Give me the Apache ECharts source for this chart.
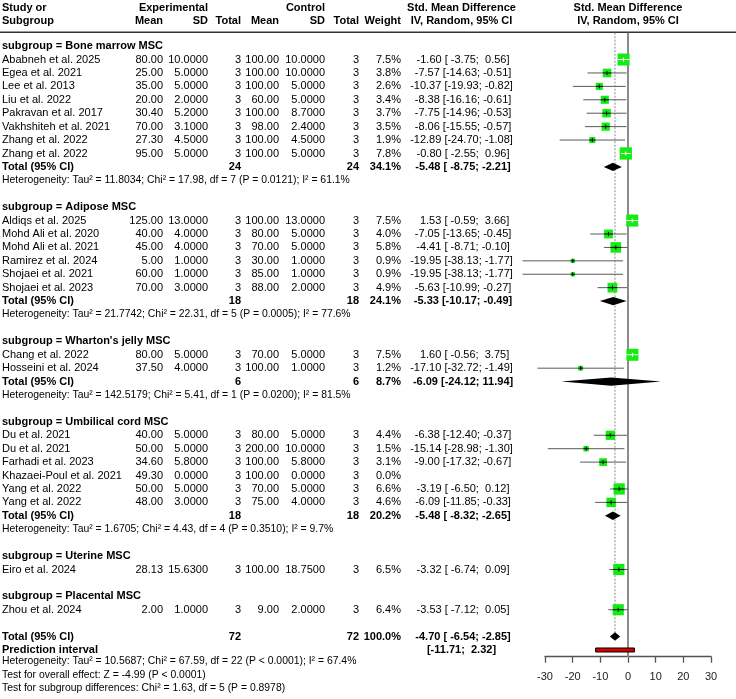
<!DOCTYPE html>
<html><head><meta charset="utf-8">
<script src="https://cdn.jsdelivr.net/npm/echarts@6.0.0/dist/echarts.min.js"></script>
<style>html,body{margin:0;padding:0;background:#fff}#c{width:736px;height:699px}</style>
</head><body><div id="c"></div>
<script>
// ---------------- DATA ----------------
const subgroupNames = ["Bone marrow MSC","Adipose MSC","Wharton's jelly MSC","Umbilical cord MSC","Uterine MSC","Placental MSC"];
const studyLabels = ["Ababneh et al. 2025","Egea et al. 2021","Lee et al. 2013","Liu et al. 2022","Pakravan et al. 2017","Vakhshiteh et al. 2021","Zhang et al. 2022","Zhang et al. 2022",
  "Aldiqs et al. 2025","Mohd Ali et al. 2020","Mohd Ali et al. 2021","Ramirez et al. 2024","Shojaei et al. 2021","Shojaei et al. 2023",
  "Chang et al. 2022","Hosseini et al. 2024",
  "Du et al. 2021","Du et al. 2021","Farhadi et al. 2023","Khazaei-Poul et al. 2021","Yang et al. 2022","Yang et al. 2022",
  "Eiro et al. 2024","Zhou et al. 2024"];
const studyGroup = [0,0,0,0,0,0,0,0, 1,1,1,1,1,1, 2,2, 3,3,3,3,3,3, 4, 5];
const expMean = [80,25,35,20,30.4,70,27.3,95, 125,40,45,5,60,70, 80,37.5, 40,50,34.6,49.3,50,48, 28.13, 2];
const expSD   = [10,5,5,2,5.2,3.1,4.5,5, 13,4,4,1,1,3, 5,4, 5,5,5.8,0,5,3, 15.63, 1];
const expN    = [3,3,3,3,3,3,3,3, 3,3,3,3,3,3, 3,3, 3,3,3,3,3,3, 3, 3];
const ctrlMean = [100,100,100,60,100,98,100,100, 100,80,70,30,85,88, 70,100, 80,200,100,100,70,75, 100, 9];
const ctrlSD   = [10,10,5,5,8.7,2.4,4.5,5, 13,5,5,1,1,2, 5,1, 5,10,5.8,0,5,4, 18.75, 2];
const ctrlN    = [3,3,3,3,3,3,3,3, 3,3,3,3,3,3, 3,3, 3,3,3,3,3,3, 3, 3];
const weights  = [7.5,3.8,2.6,3.4,3.7,3.5,1.9,7.8, 7.5,4.0,5.8,0.9,0.9,4.9, 7.5,1.2, 4.4,1.5,3.1,0.0,6.6,4.6, 6.5, 6.4];
const smd   = [-1.60,-7.57,-10.37,-8.38,-7.75,-8.06,-12.89,-0.80, 1.53,-7.05,-4.41,-19.95,-19.95,-5.63, 1.60,-17.10, -6.38,-15.14,-9.00,null,-3.19,-6.09, -3.32, -3.53];
const ciLow = [-3.75,-14.63,-19.93,-16.16,-14.96,-15.55,-24.70,-2.55, -0.59,-13.65,-8.71,-38.13,-38.13,-10.99, -0.56,-32.72, -12.40,-28.98,-17.32,null,-6.50,-11.85, -6.74, -7.12];
const ciHigh = [0.56,-0.51,-0.82,-0.61,-0.53,-0.57,-1.08,0.96, 3.66,-0.45,-0.10,-1.77,-1.77,-0.27, 3.75,-1.49, -0.37,-1.30,-0.67,null,0.12,-0.33, 0.09, 0.05];

// subgroup totals (null = single-study subgroup, no total row)
const subN      = [24,18,6,18,null,null];
const subWeight = [34.1,24.1,8.7,20.2,null,null];
const subSmd    = [-5.48,-5.33,-6.09,-5.48,null,null];
const subLow    = [-8.75,-10.17,-24.12,-8.32,null,null];
const subHigh   = [-2.21,-0.49,11.94,-2.65,null,null];
const subTau2   = ["11.8034","21.7742","142.5179","1.6705",null,null];
const subChi2   = ["17.98","22.31","5.41","4.43",null,null];
const subDf     = [7,5,1,4,null,null];
const subP      = ["= 0.0121","= 0.0005","= 0.0200","= 0.3510",null,null];
const subI2     = ["61.1","77.6","81.5","9.7",null,null];

// overall
const overallN = 72;
const overallWeight = 100.0;
const overallSmd = -4.70, overallLow = -6.54, overallHigh = -2.85;
const predLow = -11.71, predHigh = 2.32;
const overallHet = "Heterogeneity: Tau\u00b2 = 10.5687; Chi\u00b2 = 67.59, df = 22 (P < 0.0001); I\u00b2 = 67.4%";
const overallEffect = "Test for overall effect: Z = -4.99 (P < 0.0001)";
const subgroupDiff = "Test for subgroup differences: Chi\u00b2 = 1.63, df = 5 (P = 0.8978)";
const xTicks = [-30,-20,-10,0,10,20,30];

// ---------------- LAYOUT ----------------
const FONT = "'Liberation Sans', Arial, Helvetica, sans-serif";
const COL = {label:2, expMean:163, expSD:208, expN:241, ctrlMean:279, ctrlSD:325, ctrlN:359, weight:401, ci:461.5, plot:628};

function pad(s,n){ s=String(s); while(s.length<n) s=' '+s; return s; }
function ciStr(e,l,h){ return pad(e.toFixed(2),6)+' ['+pad(l.toFixed(2),6)+'; '+pad(h.toFixed(2),5)+']'; }

// build row structure
const studyRows = [], subRows = [], totalRows = [], hetRows = [];
let r = 0;
for (let g=0; g<subgroupNames.length; g++){
  subRows.push({r:r, g:g}); r++;
  for (let i=0;i<studyLabels.length;i++){ if (studyGroup[i]===g){ studyRows.push({r:r,i:i}); r++; } }
  if (subN[g]!==null){ totalRows.push({r:r,g:g}); r++; hetRows.push({r:r,g:g}); r++; }
  r++;
}
const overallRow = r;       // 44
const predRow = r+1;        // 45
const bottomRows = [r+2, r+3, r+4];

const studyData = studyRows.filter(o=>smd[o.i]!==null).map(o=>[o.r, smd[o.i], ciLow[o.i], ciHigh[o.i], weights[o.i]]);
const diamondData = totalRows.map(o=>[o.r, subSmd[o.g], subLow[o.g], subHigh[o.g]]);
diamondData.push([overallRow, overallSmd, overallLow, overallHigh]);

const chart = echarts.init(document.getElementById('c'), null, {renderer:'canvas'});
chart.setOption({
  animation:false,
  backgroundColor:'#fff',
  grid:{left:545, right:25, top:32.7, bottom:42.3, containLabel:false, outerBoundsMode:'none'},
  xAxis:{type:'value', min:-30, max:30, interval:10,
    axisLine:{show:true, onZero:false, lineStyle:{color:'#555', width:1.3}},
    axisTick:{show:true, inside:false, length:6, lineStyle:{color:'#555', width:1.3}},
    axisLabel:{color:'#222', fontSize:11, fontFamily:FONT, margin:15, formatter:v=>String(v)},
    splitLine:{show:false}},
  yAxis:{type:'value', min:-1, max:45.5, inverse:true, show:false},
  series:[
    { // reference lines
      type:'custom', clip:false, silent:true, z:1,
      data:[[0,-1,45.5,0],[overallSmd,-1,overallRow,1]],
      renderItem:function(p,api){
        const x=api.value(0), y0=api.coord([x,api.value(1)]), y1=api.coord([x,api.value(2)]);
        const dotted = api.value(3)===1;
        return {type:'line', shape:{x1:y0[0],y1:y0[1],x2:y1[0],y2:y1[1]},
          style:{stroke: dotted?'#8a8a8a':'#8c8c8c', lineWidth: dotted?1:2, lineDash: dotted?[2,1.5]:null}};
      }
    },
    { // studies
      type:'custom', clip:false, silent:true, z:3,
      data:studyData,
      renderItem:function(p,api){
        const row=api.value(0), est=api.value(1), lo=api.value(2), hi=api.value(3), w=api.value(4);
        const pe=api.coord([est,row]), pl=api.coord([lo,row]), ph=api.coord([hi,row]);
        const s=4.4*Math.sqrt(w);
        const inside=(ph[0]-pl[0])<=s;
        const inCol=inside?'#ffffff':'#000000';
        const th=Math.min(4,s);
        return {type:'group', children:[
          {type:'line', shape:{x1:pl[0],y1:pe[1],x2:ph[0],y2:pe[1]}, style:{stroke:'#5a5a5a', lineWidth:1}},
          {type:'rect', shape:{x:pe[0]-s/2,y:pe[1]-s/2,width:s,height:s}, style:{fill:'#14ea14'}},
          {type:'line', shape:{x1:Math.max(pl[0],pe[0]-s/2),y1:pe[1],x2:Math.min(ph[0],pe[0]+s/2),y2:pe[1]}, style:{stroke:inCol, lineWidth:1}},
          {type:'line', shape:{x1:pe[0],y1:pe[1]-th/2,x2:pe[0],y2:pe[1]+th/2}, style:{stroke:inCol, lineWidth:1}}
        ]};
      }
    },
    { // diamonds
      type:'custom', clip:false, silent:true, z:3,
      data:diamondData,
      renderItem:function(p,api){
        const row=api.value(0);
        const pe=api.coord([api.value(1),row]), pl=api.coord([api.value(2),row]), ph=api.coord([api.value(3),row]);
        const h=4.2;
        return {type:'polygon', shape:{points:[[pl[0],pe[1]],[pe[0],pe[1]-h],[ph[0],pe[1]],[pe[0],pe[1]+h]]}, style:{fill:'#000'}};
      }
    },
    { // prediction interval
      type:'custom', clip:false, silent:true, z:3,
      data:[[predRow, predLow, predHigh]],
      renderItem:function(p,api){
        const row=api.value(0);
        const pl=api.coord([api.value(1),row]), ph=api.coord([api.value(2),row]);
        return {type:'rect', shape:{x:pl[0],y:pl[1]-2,width:ph[0]-pl[0],height:4}, style:{fill:'#d40000', stroke:'#000', lineWidth:1}};
      }
    }
  ]
});

// ---------------- TEXT TABLE ----------------
const g = [];
function txt(x,y,text,align,bold,size,color){
  g.push({type:'text', x:x, y:y, silent:true, z:10,
    style:{text:text, align:align||'left', verticalAlign:'middle', font:(bold?'bold ':'')+(size||11)+'px '+FONT, fill:color||'#000'}});
}
const Y = row => chart.convertToPixel({yAxisIndex:0}, row);

// header
const h1=8, h2=21;
txt(COL.label,h1,'Study or','left',true);
txt(COL.label,h2,'Subgroup','left',true);
txt(COL.expSD,h1,'Experimental','right',true);
txt(COL.ctrlSD,h1,'Control','right',true);
txt(COL.expMean,h2,'Mean','right',true);
txt(COL.expSD,h2,'SD','right',true);
txt(COL.expN,h2,'Total','right',true);
txt(COL.ctrlMean,h2,'Mean','right',true);
txt(COL.ctrlSD,h2,'SD','right',true);
txt(COL.ctrlN,h2,'Total','right',true);
txt(COL.weight,h2,'Weight','right',true);
txt(COL.ci,h1,'Std. Mean Difference','center',true);
txt(COL.ci,h2,'IV, Random, 95% CI','center',true);
txt(COL.plot,h1,'Std. Mean Difference','center',true);
txt(COL.plot,h2,'IV, Random, 95% CI','center',true);
g.push({type:'line', silent:true, shape:{x1:0,y1:32.3,x2:736,y2:32.3}, style:{stroke:'#333', lineWidth:1.5}});

subRows.forEach(o=>txt(COL.label,Y(o.r),'subgroup = '+subgroupNames[o.g],'left',true));
studyRows.forEach(o=>{
  const i=o.i, y=Y(o.r);
  txt(COL.label,y,studyLabels[i]);
  txt(COL.expMean,y,expMean[i].toFixed(2),'right');
  txt(COL.expSD,y,expSD[i].toFixed(4),'right');
  txt(COL.expN,y,String(expN[i]),'right');
  txt(COL.ctrlMean,y,ctrlMean[i].toFixed(2),'right');
  txt(COL.ctrlSD,y,ctrlSD[i].toFixed(4),'right');
  txt(COL.ctrlN,y,String(ctrlN[i]),'right');
  txt(COL.weight,y,weights[i].toFixed(1)+'%','right');
  if (smd[i]!==null) txt(COL.ci,y,ciStr(smd[i],ciLow[i],ciHigh[i]),'center');
});
totalRows.forEach(o=>{
  const k=o.g, y=Y(o.r);
  txt(COL.label,y,'Total (95% CI)','left',true);
  txt(COL.expN,y,String(subN[k]),'right',true);
  txt(COL.ctrlN,y,String(subN[k]),'right',true);
  txt(COL.weight,y,subWeight[k].toFixed(1)+'%','right',true);
  txt(COL.ci,y,ciStr(subSmd[k],subLow[k],subHigh[k]),'center',true);
});
hetRows.forEach(o=>{
  const k=o.g;
  txt(COL.label,Y(o.r),'Heterogeneity: Tau\u00b2 = '+subTau2[k]+'; Chi\u00b2 = '+subChi2[k]+', df = '+subDf[k]+' (P '+subP[k]+'); I\u00b2 = '+subI2[k]+'%','left',false,10.4);
});
// overall
let yo=Y(overallRow);
txt(COL.label,yo,'Total (95% CI)','left',true);
txt(COL.expN,yo,String(overallN),'right',true);
txt(COL.ctrlN,yo,String(overallN),'right',true);
txt(COL.weight,yo,overallWeight.toFixed(1)+'%','right',true);
txt(COL.ci,yo,ciStr(overallSmd,overallLow,overallHigh),'center',true);
let yp=Y(predRow);
txt(COL.label,yp,'Prediction interval','left',true);
txt(COL.ci,yp,'['+pad(predLow.toFixed(2),6)+'; '+pad(predHigh.toFixed(2),5)+']','center',true);
txt(COL.label,Y(bottomRows[0])-2,overallHet,'left',false,10.4);
txt(COL.label,Y(bottomRows[1])-2,overallEffect,'left',false,10.4);
txt(COL.label,Y(bottomRows[2])-2,subgroupDiff,'left',false,10.4);

chart.setOption({graphic:{elements:g}});
</script></body></html>
